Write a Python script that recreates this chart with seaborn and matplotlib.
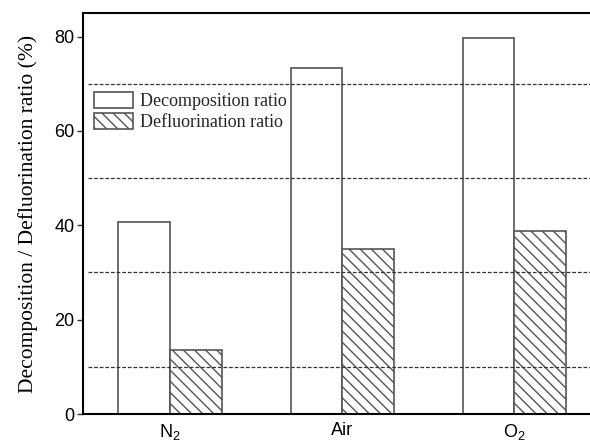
import pandas as pd
import matplotlib
matplotlib.use('Agg')
import matplotlib.pyplot as plt
import seaborn as sns
from matplotlib.patches import Patch

# values
gases = ['N$_2$', 'Air', 'O$_2$']
decomposition = [40.6, 73.4, 79.7]
defluorination = [13.5, 34.9, 38.7]
series = ['Decomposition ratio', 'Defluorination ratio']
ref_lines = [10, 30, 50, 70]

df = pd.DataFrame({
    'gas': gases * 2,
    'ratio': decomposition + defluorination,
    'kind': [series[0]] * 3 + [series[1]] * 3,
})

sns.set_style('ticks')
plt.rcParams['mathtext.default'] = 'regular'
plt.rcParams['hatch.linewidth'] = 1.0
plt.rcParams['hatch.color'] = '#111111'

fig = plt.figure(figsize=(5.9, 4.42), dpi=100)
ax = fig.add_axes([0.1407, 0.0633, 0.8593, 0.9073])

sns.barplot(data=df, x='gas', y='ratio', hue='kind', palette=['white', 'white'],
            width=0.6, edgecolor='#555555', linewidth=1.2, legend=False, ax=ax)

for bar in ax.containers[1]:
    bar.set_hatch('\\\\\\')

for y in ref_lines:
    ax.axhline(y, xmin=0.01, xmax=1, color='#333333', linestyle=(0, (3, 1.5)),
               linewidth=0.9, zorder=5)

ax.set_xlim(-0.506, 2.44)
ax.set_ylim(0, 85)
ax.set_yticks([0, 20, 40, 60, 80])
ax.set_xlabel('')
ax.set_ylabel('Decomposition / Defluorination ratio (%)', family='Liberation Serif',
              fontsize=15.5, labelpad=12, color='black')

for lab in ax.get_xticklabels() + ax.get_yticklabels():
    lab.set_family('Liberation Sans')
    lab.set_fontsize(13)
ax.tick_params(axis='x', length=0, pad=6, labelcolor='black')
ax.tick_params(axis='y', length=4.5, width=1, direction='out', pad=1.5,
               color='#333333', labelcolor='black')

for side in ['left', 'top', 'bottom']:
    ax.spines[side].set_visible(True)
    ax.spines[side].set_linewidth(1.5)
    ax.spines[side].set_color('black')
ax.spines['right'].set_visible(False)

handles = [
    Patch(facecolor='white', edgecolor='#555555', linewidth=1.2, label=series[0]),
    Patch(facecolor='white', edgecolor='#555555', linewidth=1.2, hatch='\\\\\\', label=series[1]),
]
ax.legend(handles=handles, loc='upper left', bbox_to_anchor=(0.0, 0.83), frameon=False,
          prop={'family': 'Liberation Serif', 'size': 13}, handlelength=2.15,
          handleheight=1.0, handletextpad=0.4, labelspacing=0.15, borderaxespad=0.3,
          borderpad=0.3)

fig.savefig('out.png', dpi=100)
